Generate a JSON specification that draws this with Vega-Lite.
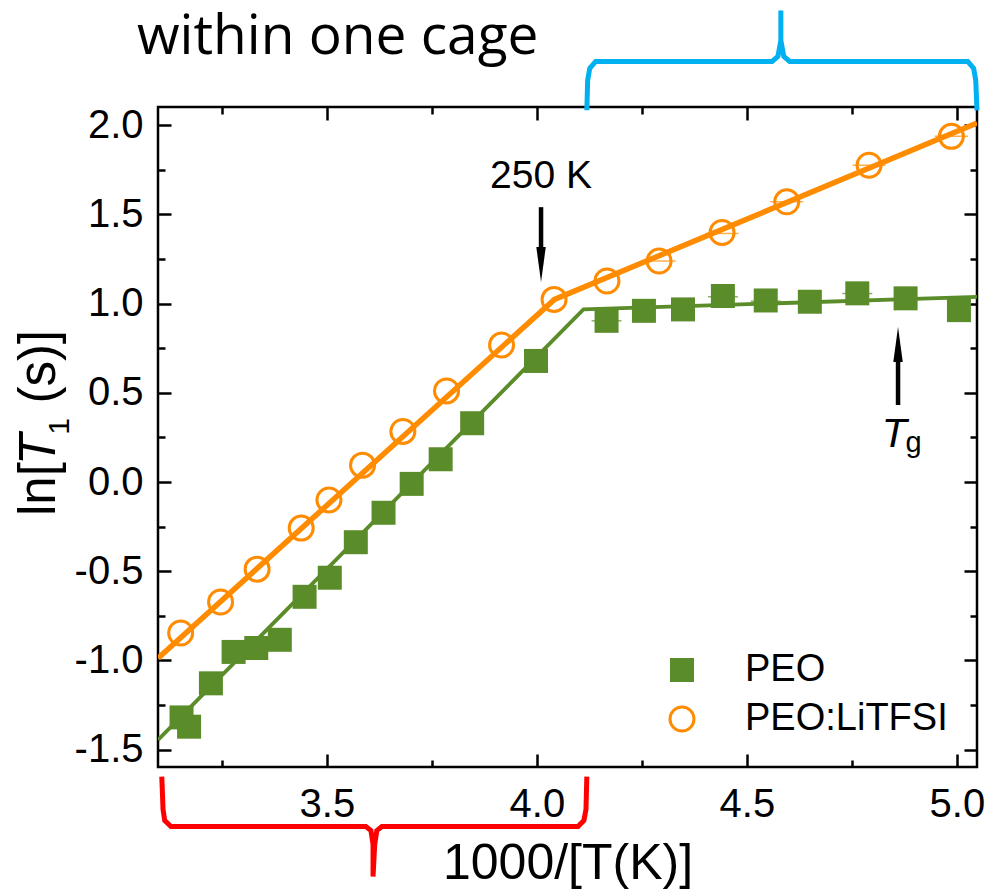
{
  "$schema": "https://vega.github.io/schema/vega-lite/v6.json",
  "width": 819,
  "height": 660,
  "autosize": {"type": "none"},
  "padding": {"left": 158, "top": 107, "right": 12, "bottom": 125},
  "background": "white",
  "config": {
    "view": {"stroke": "black", "strokeWidth": 2.5},
    "font": "Liberation Sans",
    "axis": {"labelFont": "Liberation Sans", "titleFont": "Liberation Sans", "labelColor": "black", "titleColor": "black", "tickColor": "black", "domain": false, "grid": false, "titleFontWeight": "normal"},
    "legend": {"labelFont": "Liberation Sans", "labelFontSize": 38, "labelColor": "black", "symbolStrokeWidth": 3, "labelLimit": 400}
  },
  "datasets": {
    "points": [
      {"series": "PEO", "x": 3.154, "y": -1.319},
      {"series": "PEO", "x": 3.172, "y": -1.371},
      {"series": "PEO", "x": 3.224, "y": -1.128},
      {"series": "PEO", "x": 3.278, "y": -0.952},
      {"series": "PEO", "x": 3.332, "y": -0.930},
      {"series": "PEO", "x": 3.388, "y": -0.884},
      {"series": "PEO", "x": 3.447, "y": -0.643},
      {"series": "PEO", "x": 3.507, "y": -0.536},
      {"series": "PEO", "x": 3.569, "y": -0.337},
      {"series": "PEO", "x": 3.635, "y": -0.172},
      {"series": "PEO", "x": 3.702, "y": -0.010},
      {"series": "PEO", "x": 3.771, "y": 0.128},
      {"series": "PEO", "x": 3.846, "y": 0.330},
      {"series": "PEO", "x": 3.998, "y": 0.679},
      {"series": "PEO", "x": 4.166, "y": 0.904},
      {"series": "PEO", "x": 4.255, "y": 0.960},
      {"series": "PEO", "x": 4.348, "y": 0.968},
      {"series": "PEO", "x": 4.443, "y": 1.043},
      {"series": "PEO", "x": 4.545, "y": 1.018},
      {"series": "PEO", "x": 4.650, "y": 1.011},
      {"series": "PEO", "x": 4.763, "y": 1.058},
      {"series": "PEO", "x": 4.878, "y": 1.030},
      {"series": "PEO", "x": 5.005, "y": 0.964},
      {"series": "PEO:LiTFSI", "x": 3.152, "y": -0.846},
      {"series": "PEO:LiTFSI", "x": 3.247, "y": -0.672},
      {"series": "PEO:LiTFSI", "x": 3.334, "y": -0.488},
      {"series": "PEO:LiTFSI", "x": 3.439, "y": -0.258},
      {"series": "PEO:LiTFSI", "x": 3.505, "y": -0.100},
      {"series": "PEO:LiTFSI", "x": 3.585, "y": 0.095},
      {"series": "PEO:LiTFSI", "x": 3.681, "y": 0.284},
      {"series": "PEO:LiTFSI", "x": 3.785, "y": 0.511},
      {"series": "PEO:LiTFSI", "x": 3.916, "y": 0.768},
      {"series": "PEO:LiTFSI", "x": 4.041, "y": 1.024},
      {"series": "PEO:LiTFSI", "x": 4.167, "y": 1.127},
      {"series": "PEO:LiTFSI", "x": 4.291, "y": 1.239},
      {"series": "PEO:LiTFSI", "x": 4.441, "y": 1.399},
      {"series": "PEO:LiTFSI", "x": 4.595, "y": 1.571},
      {"series": "PEO:LiTFSI", "x": 4.791, "y": 1.776},
      {"series": "PEO:LiTFSI", "x": 4.987, "y": 1.938}
    ],
    "caps": [
      {"series": "PEO", "x": 4.166, "y": 0.904},
      {"series": "PEO", "x": 4.443, "y": 1.039},
      {"series": "PEO", "x": 4.545, "y": 1.014},
      {"series": "PEO", "x": 4.763, "y": 1.057},
      {"series": "PEO:LiTFSI", "x": 4.291, "y": 1.239},
      {"series": "PEO:LiTFSI", "x": 4.441, "y": 1.394},
      {"series": "PEO:LiTFSI", "x": 4.595, "y": 1.571},
      {"series": "PEO:LiTFSI", "x": 4.791, "y": 1.776},
      {"series": "PEO:LiTFSI", "x": 4.987, "y": 1.938}
    ],
    "fits": [
      {"series": "PEO", "x": 3.098, "y": -1.445},
      {"series": "PEO", "x": 4.111, "y": 0.968},
      {"series": "PEO", "x": 5.048, "y": 1.038},
      {"series": "PEO:LiTFSI", "x": 3.098, "y": -0.987},
      {"series": "PEO:LiTFSI", "x": 4.042, "y": 1.024},
      {"series": "PEO:LiTFSI", "x": 5.048, "y": 2.013}
    ],
    "brackets": [
      {"bracket": "top", "i": 0, "x": 4.119, "y": 2.084},
      {"bracket": "top", "i": 1, "x": 4.121, "y": 2.252},
      {"bracket": "top", "i": 2, "x": 4.126, "y": 2.319},
      {"bracket": "top", "i": 3, "x": 4.140, "y": 2.358},
      {"bracket": "top", "i": 4, "x": 4.560, "y": 2.358},
      {"bracket": "top", "i": 5, "x": 4.574, "y": 2.386},
      {"bracket": "top", "i": 6, "x": 4.581, "y": 2.476},
      {"bracket": "top", "i": 7, "x": 4.581, "y": 2.644},
      {"bracket": "top", "i": 8, "x": 4.581, "y": 2.476},
      {"bracket": "top", "i": 9, "x": 4.588, "y": 2.386},
      {"bracket": "top", "i": 10, "x": 4.602, "y": 2.358},
      {"bracket": "top", "i": 11, "x": 5.026, "y": 2.358},
      {"bracket": "top", "i": 12, "x": 5.040, "y": 2.319},
      {"bracket": "top", "i": 13, "x": 5.045, "y": 2.252},
      {"bracket": "top", "i": 14, "x": 5.048, "y": 2.084},
      {"bracket": "bottom", "i": 0, "x": 3.107, "y": -1.651},
      {"bracket": "bottom", "i": 1, "x": 3.110, "y": -1.835},
      {"bracket": "bottom", "i": 2, "x": 3.114, "y": -1.897},
      {"bracket": "bottom", "i": 3, "x": 3.129, "y": -1.931},
      {"bracket": "bottom", "i": 4, "x": 3.593, "y": -1.931},
      {"bracket": "bottom", "i": 5, "x": 3.605, "y": -1.953},
      {"bracket": "bottom", "i": 6, "x": 3.610, "y": -2.031},
      {"bracket": "bottom", "i": 7, "x": 3.610, "y": -2.211},
      {"bracket": "bottom", "i": 8, "x": 3.614, "y": -2.031},
      {"bracket": "bottom", "i": 9, "x": 3.619, "y": -1.953},
      {"bracket": "bottom", "i": 10, "x": 3.631, "y": -1.931},
      {"bracket": "bottom", "i": 11, "x": 4.098, "y": -1.931},
      {"bracket": "bottom", "i": 12, "x": 4.112, "y": -1.897},
      {"bracket": "bottom", "i": 13, "x": 4.117, "y": -1.835},
      {"bracket": "bottom", "i": 14, "x": 4.119, "y": -1.651}
    ]
  },
  "layer": [
    {
      "encoding": {
        "x": {"field": "x", "type": "quantitative", "scale": {"domain": [3.098, 5.048], "nice": false, "zero": false},
          "axis": {"orient": "bottom", "values": [3.25, 3.5, 3.75, 4, 4.25, 4.5, 4.75, 5],
            "labelExpr": "datum.value*2 == round(datum.value*2) ? format(datum.value, '.1f') : ''",
            "tickSize": {"condition": {"test": "datum.value*2 == round(datum.value*2)", "value": -13}, "value": -7},
            "tickWidth": 2.5, "labelFontSize": 40, "labelPadding": 30, "labelFlush": false,
            "title": "1000/[T(K)]", "titleFontSize": 50, "titlePadding": 14}},
        "y": {"field": "y", "type": "quantitative", "scale": {"domain": [-1.597, 2.1025], "nice": false, "zero": false},
          "axis": {"orient": "left", "values": [-1.5, -1.25, -1, -0.75, -0.5, -0.25, 0, 0.25, 0.5, 0.75, 1, 1.25, 1.5, 1.75, 2],
            "labelExpr": "datum.value*2 == round(datum.value*2) ? replace(format(datum.value, '.1f'), '\u2212', '-') : ''",
            "tickSize": {"condition": {"test": "datum.value*2 == round(datum.value*2)", "value": -13}, "value": -7},
            "tickWidth": 2.5, "labelFontSize": 40, "labelPadding": 28, "labelFlush": false, "title": null}}
      },
      "layer": [
        {"data": {"name": "fits"}, "transform": [{"filter": "datum.series == 'PEO'"}],
          "mark": {"type": "line", "color": "#5B8C2A", "strokeWidth": 3.8, "clip": true}},
        {"data": {"name": "fits"}, "transform": [{"filter": "datum.series == 'PEO:LiTFSI'"}],
          "mark": {"type": "line", "color": "#FF8C00", "strokeWidth": 5.5, "clip": true}},
        {"data": {"name": "caps"}, "transform": [{"filter": "datum.series == 'PEO'"}],
          "mark": {"type": "tick", "orient": "horizontal", "size": 30, "thickness": 1.5, "color": "#5B8C2A"}},
        {"data": {"name": "caps"}, "transform": [{"filter": "datum.series == 'PEO:LiTFSI'"}],
          "mark": {"type": "tick", "orient": "horizontal", "size": 33, "thickness": 1.5, "color": "#FF8C00"}},
        {"data": {"name": "points"}, "mark": {"type": "point", "size": 576, "strokeWidth": 3, "opacity": 1},
          "encoding": {
            "shape": {"field": "series", "type": "nominal", "scale": {"domain": ["PEO", "PEO:LiTFSI"], "range": ["square", "circle"]},
              "legend": {"title": null, "orient": "bottom-right", "offset": 29, "labelOffset": 44, "rowPadding": 11, "padding": 0, "symbolSize": 576, "labelLimit": 400}},
            "stroke": {"field": "series", "type": "nominal", "scale": {"domain": ["PEO", "PEO:LiTFSI"], "range": ["transparent", "#FF8C00"]},
              "legend": {"title": null, "orient": "bottom-right", "offset": 29, "labelOffset": 44, "rowPadding": 11, "padding": 0, "symbolSize": 576, "labelLimit": 400}},
            "fill": {"field": "series", "type": "nominal", "scale": {"domain": ["PEO", "PEO:LiTFSI"], "range": ["#5B8C2A", "transparent"]},
              "legend": {"title": null, "orient": "bottom-right", "offset": 29, "labelOffset": 44, "rowPadding": 11, "padding": 0, "symbolSize": 576, "labelLimit": 400}}
          }},
        {"data": {"name": "brackets"}, "transform": [{"filter": "datum.bracket == 'top'"}],
          "mark": {"type": "line", "color": "#00B0F0", "strokeWidth": 5, "clip": false},
          "encoding": {"order": {"field": "i", "type": "quantitative"}}},
        {"data": {"name": "brackets"}, "transform": [{"filter": "datum.bracket == 'bottom'"}],
          "mark": {"type": "line", "color": "#FF0000", "strokeWidth": 5, "clip": false},
          "encoding": {"order": {"field": "i", "type": "quantitative"}}},
        {"data": {"values": [{"x": 4.010, "y": 1.541, "y2": 1.272}, {"x": 4.860, "y": 0.432, "y2": 0.712}]},
          "mark": {"type": "rule", "color": "black", "strokeWidth": 4.5},
          "encoding": {"y2": {"field": "y2"}}},
        {"data": {"values": [{"x": 4.010, "y": 1.219}]},
          "mark": {"type": "point", "shape": "M-0.27,-1L0.27,-1L0,1Z", "size": 1225, "filled": true, "color": "black", "opacity": 1, "strokeWidth": 0}},
        {"data": {"values": [{"x": 4.860, "y": 0.771}]},
          "mark": {"type": "point", "shape": "M-0.27,1L0.27,1L0,-1Z", "size": 1225, "filled": true, "color": "black", "opacity": 1, "strokeWidth": 0}},
        {"data": {"values": [{"x": 4.010, "y": 1.647, "label": "250 K"}]},
          "mark": {"type": "text", "fontSize": 39, "align": "center", "baseline": "alphabetic", "color": "black"},
          "encoding": {"text": {"field": "label"}}},
        {"data": {"values": [{"x": 4.821, "y": 0.197, "label": "T"}]},
          "mark": {"type": "text", "fontSize": 41, "fontStyle": "italic", "align": "left", "baseline": "alphabetic", "color": "black"},
          "encoding": {"text": {"field": "label"}}},
        {"data": {"values": [{"x": 4.878, "y": 0.169, "label": "g"}]},
          "mark": {"type": "text", "fontSize": 29, "align": "left", "baseline": "alphabetic", "color": "black"},
          "encoding": {"text": {"field": "label"}}},
        {"data": {"values": [{"x": 3.048, "y": 2.4, "label": "within one cage"}]},
          "mark": {"type": "text", "font": "Open Sans", "fontSize": 55, "align": "left", "baseline": "alphabetic", "color": "black"},
          "encoding": {"text": {"field": "label"}}},
        {"data": {"values": [{"x": 2.853, "y": -0.19, "label": "ln["}, {"x": 2.853, "y": 0.44, "label": "(s)]"}]},
          "mark": {"type": "text", "fontSize": 51, "angle": 270, "align": "left", "baseline": "alphabetic", "color": "black"},
          "encoding": {"text": {"field": "label"}}},
        {"data": {"values": [{"x": 2.853, "y": 0.096, "label": "T"}]},
          "mark": {"type": "text", "fontSize": 51, "fontStyle": "italic", "angle": 270, "align": "left", "baseline": "alphabetic", "color": "black"},
          "encoding": {"text": {"field": "label"}}},
        {"data": {"values": [{"x": 2.886, "y": 0.265, "label": "1"}]},
          "mark": {"type": "text", "fontSize": 30, "angle": 270, "align": "left", "baseline": "alphabetic", "color": "black"},
          "encoding": {"text": {"field": "label"}}}
      ]
    },
    {
      "data": {"name": "fits"},
      "mark": {"type": "point", "opacity": 0},
      "encoding": {
        "x": {"field": "x", "type": "quantitative", "scale": {"domain": [3.098, 5.048], "nice": false, "zero": false},
          "axis": {"orient": "top", "values": [3.25, 3.5, 3.75, 4, 4.25, 4.5, 4.75, 5], "labels": false, "title": null,
            "tickSize": {"condition": {"test": "datum.value*2 == round(datum.value*2)", "value": -13}, "value": -7}, "tickWidth": 2.5}},
        "y": {"field": "y", "type": "quantitative", "scale": {"domain": [-1.597, 2.1025], "nice": false, "zero": false},
          "axis": {"orient": "right", "values": [-1.5, -1.25, -1, -0.75, -0.5, -0.25, 0, 0.25, 0.5, 0.75, 1, 1.25, 1.5, 1.75, 2], "labels": false, "title": null,
            "tickSize": {"condition": {"test": "datum.value*2 == round(datum.value*2)", "value": -13}, "value": -7}, "tickWidth": 2.5}}
      }
    }
  ],
  "resolve": {"axis": {"x": "independent", "y": "independent"}}
}
